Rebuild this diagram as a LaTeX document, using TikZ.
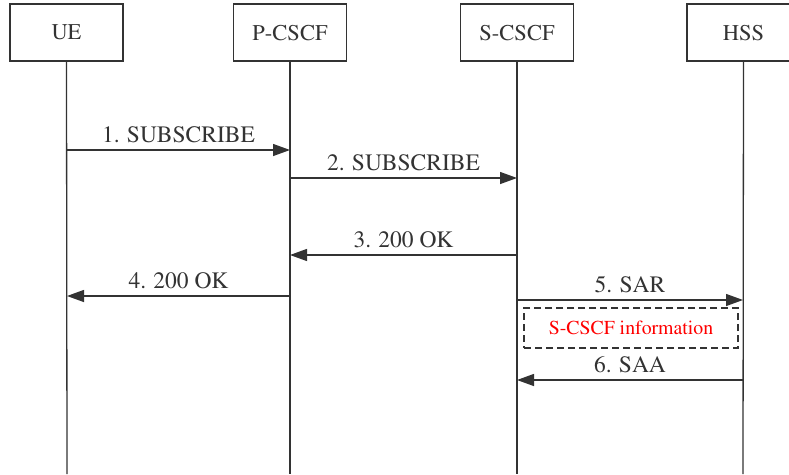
\documentclass[tikz,border=0pt]{standalone}
\usepackage[T1]{fontenc}
\usepackage{mathptmx}
\usetikzlibrary{arrows.meta}
\definecolor{ink}{HTML}{333333}
\begin{document}
\begin{tikzpicture}[x=1pt,y=-1pt,
  entity/.style={draw=ink,line width=1.2pt,fill=white,minimum width=113pt,minimum height=57pt,
    inner sep=0pt,text=ink,font=\fontsize{22.5}{25}\selectfont},
  lifeline/.style={draw=ink,line width=1.3pt},
  msg/.style={draw=ink,line width=1.3pt,-{Triangle[length=17pt,width=12pt]}},
  msglabel/.style={anchor=base,text=ink,font=\fontsize{23.5}{25}\selectfont,inner sep=0pt}]
\useasboundingbox (0,0) rectangle (789,474);
\fill[white] (0,0) rectangle (789,474);

% participants
\node[entity] (ue)   at (66.5,32.5)  {UE};
\node[entity] (pcscf) at (290,32.5) {P-CSCF};
\node[entity] (scscf) at (517,32.5) {S-CSCF};
\node[entity] (hss)  at (743.5,32.5) {HSS};

% lifeline ends
\coordinate (ueE) at (67,474);
\coordinate (pE) at (290,474);
\coordinate (sE) at (517,474);
\coordinate (hE) at (743,474);
\draw[lifeline] (ue.south) -- (ueE);
\draw[lifeline] (pcscf.south) -- (pE);
\draw[lifeline] (scscf.south) -- (sE);
\draw[lifeline] (hss.south) -- (hE);

% message end points on the lifelines
\coordinate (u1) at (67,150);  \coordinate (p1) at (290,150);
\coordinate (p2) at (290,178); \coordinate (s2) at (517,178);
\coordinate (s3) at (517,255); \coordinate (p3) at (290,255);
\coordinate (p4) at (290,296); \coordinate (u4) at (67,296);
\coordinate (s5) at (517,300); \coordinate (h5) at (743,300);
\coordinate (h6) at (743,380); \coordinate (s6) at (517,380);

\draw[msg] (u1) -- (p1);
\node[msglabel] (l1) at (178.5,142) {1. SUBSCRIBE};
\draw[msg] (p2) -- (s2);
\node[msglabel] (l2) at (403.5,170) {2. SUBSCRIBE};
\draw[msg] (s3) -- (p3);
\node[msglabel] (l3) at (403.5,247.5) {3. 200 OK};
\draw[msg] (p4) -- (u4);
\node[msglabel] (l4) at (178.5,288.5) {4. 200 OK};
\draw[msg] (s5) -- (h5);
\node[msglabel] (l5) at (630,292.5) {5. SAR};

% dashed information box
\node[draw=ink,dashed,dash pattern=on 7pt off 4pt,line width=1.2pt,minimum width=214pt,minimum height=40pt,
  inner sep=0pt,text=red,font=\fontsize{19.8}{22}\selectfont] (info) at (631,328) {S-CSCF information};

\draw[msg] (h6) -- (s6);
\node[msglabel] (l6) at (630,372.5) {6. SAA};
\end{tikzpicture}
\end{document}
